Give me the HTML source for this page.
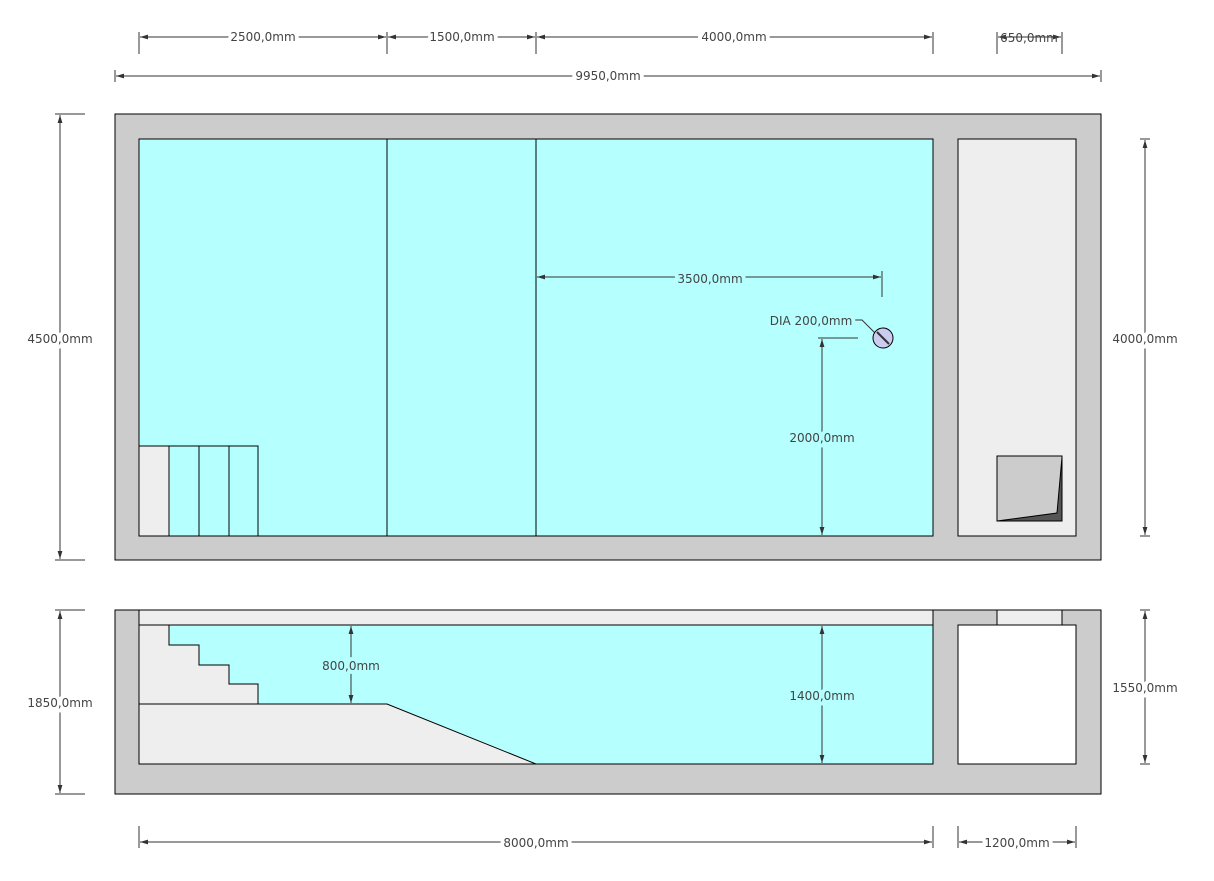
<!DOCTYPE html>
<html><head><meta charset="utf-8"><style>
html,body{margin:0;padding:0;background:#fff;width:1214px;height:881px;overflow:hidden}
svg text{font-family:"DejaVu Sans","Liberation Sans",sans-serif;font-size:12px;fill:#444;paint-order:stroke;stroke-width:8px;stroke-linejoin:round}
.w{stroke:#fff}.c{stroke:#b5ffff}.n{stroke:none}
</style></head><body>
<svg width="1214" height="881" viewBox="0 0 1214 881" xmlns="http://www.w3.org/2000/svg">
<defs>
<marker id="a" viewBox="0 0 10 6" refX="10" refY="3" markerWidth="8" markerHeight="5" orient="auto-start-reverse"><path d="M0,0L10,3L0,6z" fill="#333"/></marker>
</defs>
<rect x="115" y="114" width="986" height="446" fill="#ccc" stroke="#000"/>
<rect x="139" y="139" width="794" height="397" fill="#b5ffff" stroke="#000"/>
<rect x="958" y="139" width="118" height="397" fill="#eee" stroke="#000"/>
<line x1="387" y1="139" x2="387" y2="536" stroke="#000"/>
<line x1="536" y1="139" x2="536" y2="536" stroke="#000"/>
<rect x="139" y="446" width="30" height="90" fill="#eee" stroke="#000"/>
<path d="M169,446H258V536M199,446V536M229,446V536" fill="none" stroke="#000"/>
<rect x="997" y="456" width="65" height="65" fill="#ccc" stroke="#000"/>
<path d="M1062,457L1057,513L997,521H1062z" fill="#555" stroke="#000"/>
<rect x="115" y="610" width="986" height="184" fill="#ccc" stroke="#000"/>
<rect x="139" y="610" width="794" height="154" fill="#b5ffff" stroke="#000"/>
<rect x="139" y="610" width="794" height="15" fill="#eee" stroke="#000"/>
<path d="M139,625H169V645H199V665H229V684H258V704H139z" fill="#eee" stroke="#000"/>
<path d="M139,704H387L536,764H139z" fill="#eee" stroke="#000"/>
<rect x="958" y="625" width="118" height="139" fill="#fff" stroke="#000"/>
<rect x="997" y="610" width="65" height="15" fill="#eee" stroke="#000"/>
<g stroke="#333" fill="none" stroke-width="1">
<path d="M139,32V54M387,32V54M536,32V54M933,32V54M997,32V54M1062,32V54M115,70V82M1101,70V82"/>
<line x1="140" y1="37" x2="386" y2="37" marker-start="url(#a)" marker-end="url(#a)"/>
<line x1="388" y1="37" x2="535" y2="37" marker-start="url(#a)" marker-end="url(#a)"/>
<line x1="537" y1="37" x2="932" y2="37" marker-start="url(#a)" marker-end="url(#a)"/>
<line x1="998" y1="37" x2="1061" y2="37" marker-start="url(#a)" marker-end="url(#a)"/>
<line x1="116" y1="76" x2="1100" y2="76" marker-start="url(#a)" marker-end="url(#a)"/>
<path d="M55,114H85M55,560H85M1140,139H1150M1140,536H1150M55,610H85M55,794H85M1140,610H1150M1140,764H1150"/>
<line x1="60" y1="115" x2="60" y2="559" marker-start="url(#a)" marker-end="url(#a)"/>
<line x1="1145" y1="140" x2="1145" y2="535" marker-start="url(#a)" marker-end="url(#a)"/>
<line x1="60" y1="611" x2="60" y2="793" marker-start="url(#a)" marker-end="url(#a)"/>
<line x1="1145" y1="611" x2="1145" y2="763" marker-start="url(#a)" marker-end="url(#a)"/>
<path d="M139,826V848M933,826V848M958,826V848M1076,826V848"/>
<line x1="140" y1="842" x2="932" y2="842" marker-start="url(#a)" marker-end="url(#a)"/>
<line x1="959" y1="842" x2="1075" y2="842" marker-start="url(#a)" marker-end="url(#a)"/>
<line x1="537" y1="277" x2="881" y2="277" marker-start="url(#a)" marker-end="url(#a)"/>
<path d="M882,271V297M818,338H858M851,320H862L876,334"/>
<line x1="822" y1="339" x2="822" y2="535" marker-start="url(#a)" marker-end="url(#a)"/>
<line x1="351" y1="626" x2="351" y2="703" marker-start="url(#a)" marker-end="url(#a)"/>
<line x1="822" y1="626" x2="822" y2="763" marker-start="url(#a)" marker-end="url(#a)"/>
</g>
<circle cx="883" cy="338" r="10" fill="#ccccf0" stroke="#000"/>
<line x1="877" y1="332" x2="889" y2="344" stroke="#333" stroke-width="2"/>
<g text-anchor="middle">
<text class="w" x="263" y="41">2500,0mm</text>
<text class="w" x="462" y="41">1500,0mm</text>
<text class="w" x="734" y="41">4000,0mm</text>
<text class="n" x="1029" y="42">650,0mm</text>
<text class="w" x="608" y="80">9950,0mm</text>
<text class="w" x="60" y="343">4500,0mm</text>
<text class="w" x="1145" y="343">4000,0mm</text>
<text class="w" x="60" y="707">1850,0mm</text>
<text class="w" x="1145" y="692">1550,0mm</text>
<text class="w" x="536" y="847">8000,0mm</text>
<text class="w" x="1017" y="847">1200,0mm</text>
<text class="c" x="710" y="283">3500,0mm</text>
<text class="c" x="811" y="325">DIA 200,0mm</text>
<text class="c" x="822" y="442">2000,0mm</text>
<text class="c" x="351" y="670">800,0mm</text>
<text class="c" x="822" y="700">1400,0mm</text>
</g>
</svg>
</body></html>
